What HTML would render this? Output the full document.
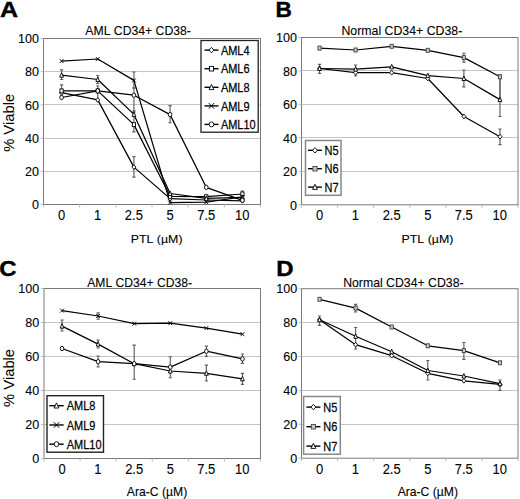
<!DOCTYPE html>
<html><head><meta charset="utf-8"><style>
html,body{margin:0;padding:0;background:#fff;}
svg{display:block;}
text{font-family:"Liberation Sans",sans-serif;font-kerning:none;stroke:#000;stroke-width:0.1px;}
</style></head><body>
<svg width="520" height="499" viewBox="0 0 520 499">
<rect width="520" height="499" fill="#fff"/>
<line x1="43.5" y1="171.5" x2="260.5" y2="171.5" stroke="#c4c4c4" stroke-width="1"/>
<line x1="43.5" y1="138.5" x2="260.5" y2="138.5" stroke="#c4c4c4" stroke-width="1"/>
<line x1="43.5" y1="104.5" x2="260.5" y2="104.5" stroke="#c4c4c4" stroke-width="1"/>
<line x1="43.5" y1="71.5" x2="260.5" y2="71.5" stroke="#c4c4c4" stroke-width="1"/>
<rect x="43.5" y="38.5" width="217.0" height="166.0" fill="none" stroke="#7a7a7a" stroke-width="1"/>
<line x1="40.5" y1="204.5" x2="43.5" y2="204.5" stroke="#bbb" stroke-width="1"/>
<line x1="40.5" y1="171.3" x2="43.5" y2="171.3" stroke="#bbb" stroke-width="1"/>
<line x1="40.5" y1="138.1" x2="43.5" y2="138.1" stroke="#bbb" stroke-width="1"/>
<line x1="40.5" y1="104.9" x2="43.5" y2="104.9" stroke="#bbb" stroke-width="1"/>
<line x1="40.5" y1="71.7" x2="43.5" y2="71.7" stroke="#bbb" stroke-width="1"/>
<line x1="40.5" y1="38.5" x2="43.5" y2="38.5" stroke="#bbb" stroke-width="1"/>
<line x1="43.5" y1="204.5" x2="43.5" y2="207.5" stroke="#bbb" stroke-width="1"/>
<line x1="79.67" y1="204.5" x2="79.67" y2="207.5" stroke="#bbb" stroke-width="1"/>
<line x1="115.83" y1="204.5" x2="115.83" y2="207.5" stroke="#bbb" stroke-width="1"/>
<line x1="152" y1="204.5" x2="152" y2="207.5" stroke="#bbb" stroke-width="1"/>
<line x1="188.17" y1="204.5" x2="188.17" y2="207.5" stroke="#bbb" stroke-width="1"/>
<line x1="224.33" y1="204.5" x2="224.33" y2="207.5" stroke="#bbb" stroke-width="1"/>
<line x1="260.5" y1="204.5" x2="260.5" y2="207.5" stroke="#bbb" stroke-width="1"/>
<path d="M61.58,69.80V79.50M59.98,69.80H63.18M59.98,79.50H63.18" stroke="#606060" stroke-width="1.15" fill="none"/>
<path d="M61.58,84.90V96.00M59.98,84.90H63.18M59.98,96.00H63.18" stroke="#606060" stroke-width="1.15" fill="none"/>
<path d="M97.75,75.50V83.50M96.15,75.50H99.35M96.15,83.50H99.35" stroke="#606060" stroke-width="1.15" fill="none"/>
<path d="M97.75,86.00V101.00M96.15,86.00H99.35M96.15,101.00H99.35" stroke="#606060" stroke-width="1.15" fill="none"/>
<path d="M133.92,72.00V88.00M132.32,72.00H135.52M132.32,88.00H135.52" stroke="#606060" stroke-width="1.15" fill="none"/>
<path d="M133.92,88.00V112.00M132.32,88.00H135.52M132.32,112.00H135.52" stroke="#606060" stroke-width="1.15" fill="none"/>
<path d="M133.92,110.80V131.90M132.32,110.80H135.52M132.32,131.90H135.52" stroke="#606060" stroke-width="1.15" fill="none"/>
<path d="M133.92,156.60V177.10M132.32,156.60H135.52M132.32,177.10H135.52" stroke="#606060" stroke-width="1.15" fill="none"/>
<path d="M170.08,105.60V122.70M168.48,105.60H171.68M168.48,122.70H171.68" stroke="#606060" stroke-width="1.15" fill="none"/>
<path d="M242.42,191.00V198.00M240.82,191.00H244.02M240.82,198.00H244.02" stroke="#606060" stroke-width="1.15" fill="none"/>
<polyline points="61.58,92.70 97.75,99.90 133.92,167.10 170.08,198.60 206.25,200.00 242.42,200.80" fill="none" stroke="#000" stroke-width="1.25" stroke-linejoin="round"/>
<polyline points="61.58,90.90 97.75,90.90 133.92,124.60 170.08,196.30 206.25,196.70 242.42,194.00" fill="none" stroke="#000" stroke-width="1.25" stroke-linejoin="round"/>
<polyline points="61.58,75.20 97.75,79.50 133.92,114.40 170.08,193.50 206.25,198.40 242.42,197.40" fill="none" stroke="#000" stroke-width="1.25" stroke-linejoin="round"/>
<polyline points="61.58,61.10 97.75,59.00 133.92,80.40 170.08,202.60 206.25,202.20 242.42,197.00" fill="none" stroke="#000" stroke-width="1.25" stroke-linejoin="round"/>
<polyline points="61.58,97.50 97.75,90.90 133.92,95.20 170.08,114.60 206.25,187.30 242.42,200.30" fill="none" stroke="#000" stroke-width="1.25" stroke-linejoin="round"/>
<path d="M59.58,92.70L61.58,90.30L63.58,92.70L61.58,95.10Z" fill="#fff" stroke="#000" stroke-width="0.9"/>
<path d="M95.75,99.90L97.75,97.50L99.75,99.90L97.75,102.30Z" fill="#fff" stroke="#000" stroke-width="0.9"/>
<path d="M131.92,167.10L133.92,164.70L135.92,167.10L133.92,169.50Z" fill="#fff" stroke="#000" stroke-width="0.9"/>
<path d="M168.08,198.60L170.08,196.20L172.08,198.60L170.08,201.00Z" fill="#fff" stroke="#000" stroke-width="0.9"/>
<path d="M204.25,200.00L206.25,197.60L208.25,200.00L206.25,202.40Z" fill="#fff" stroke="#000" stroke-width="0.9"/>
<path d="M240.42,200.80L242.42,198.40L244.42,200.80L242.42,203.20Z" fill="#fff" stroke="#000" stroke-width="0.9"/>
<rect x="59.98" y="88.90" width="3.20" height="4.00" fill="#fff" stroke="#000" stroke-width="0.9"/>
<rect x="96.15" y="88.90" width="3.20" height="4.00" fill="#fff" stroke="#000" stroke-width="0.9"/>
<rect x="132.32" y="122.60" width="3.20" height="4.00" fill="#fff" stroke="#000" stroke-width="0.9"/>
<rect x="168.48" y="194.30" width="3.20" height="4.00" fill="#fff" stroke="#000" stroke-width="0.9"/>
<rect x="204.65" y="194.70" width="3.20" height="4.00" fill="#fff" stroke="#000" stroke-width="0.9"/>
<rect x="240.82" y="192.00" width="3.20" height="4.00" fill="#fff" stroke="#000" stroke-width="0.9"/>
<path d="M61.58,72.70L63.48,77.20L59.68,77.20Z" fill="#fff" stroke="#000" stroke-width="0.9"/>
<path d="M97.75,77.00L99.65,81.50L95.85,81.50Z" fill="#fff" stroke="#000" stroke-width="0.9"/>
<path d="M133.92,111.90L135.82,116.40L132.02,116.40Z" fill="#fff" stroke="#000" stroke-width="0.9"/>
<path d="M170.08,191.00L171.98,195.50L168.18,195.50Z" fill="#fff" stroke="#000" stroke-width="0.9"/>
<path d="M206.25,195.90L208.15,200.40L204.35,200.40Z" fill="#fff" stroke="#000" stroke-width="0.9"/>
<path d="M242.42,194.90L244.32,199.40L240.52,199.40Z" fill="#fff" stroke="#000" stroke-width="0.9"/>
<path d="M59.68,59.10L63.48,63.10M63.48,59.10L59.68,63.10" stroke="#000" stroke-width="0.9" fill="none"/>
<path d="M95.85,57.00L99.65,61.00M99.65,57.00L95.85,61.00" stroke="#000" stroke-width="0.9" fill="none"/>
<path d="M132.02,78.40L135.82,82.40M135.82,78.40L132.02,82.40" stroke="#000" stroke-width="0.9" fill="none"/>
<path d="M168.18,200.60L171.98,204.60M171.98,200.60L168.18,204.60" stroke="#000" stroke-width="0.9" fill="none"/>
<path d="M204.35,200.20L208.15,204.20M208.15,200.20L204.35,204.20" stroke="#000" stroke-width="0.9" fill="none"/>
<path d="M240.52,195.00L244.32,199.00M244.32,195.00L240.52,199.00" stroke="#000" stroke-width="0.9" fill="none"/>
<ellipse cx="61.58" cy="97.50" rx="1.80" ry="2.20" fill="#fff" stroke="#000" stroke-width="0.9"/>
<ellipse cx="97.75" cy="90.90" rx="1.80" ry="2.20" fill="#fff" stroke="#000" stroke-width="0.9"/>
<ellipse cx="133.92" cy="95.20" rx="1.80" ry="2.20" fill="#fff" stroke="#000" stroke-width="0.9"/>
<ellipse cx="170.08" cy="114.60" rx="1.80" ry="2.20" fill="#fff" stroke="#000" stroke-width="0.9"/>
<ellipse cx="206.25" cy="187.30" rx="1.80" ry="2.20" fill="#fff" stroke="#000" stroke-width="0.9"/>
<ellipse cx="242.42" cy="200.30" rx="1.80" ry="2.20" fill="#fff" stroke="#000" stroke-width="0.9"/>
<rect x="201" y="40.5" width="57.19999999999999" height="91.69999999999999" fill="#fff" stroke="#222" stroke-width="1.3"/>
<line x1="204.5" y1="50.1" x2="218.5" y2="50.1" stroke="#000" stroke-width="1.4"/>
<path d="M209.00,50.10L211.50,47.40L214.00,50.10L211.50,52.80Z" fill="#fff" stroke="#000" stroke-width="0.9"/>
<line x1="204.5" y1="68.7" x2="218.5" y2="68.7" stroke="#000" stroke-width="1.4"/>
<rect x="209.40" y="66.40" width="4.20" height="4.60" fill="#fff" stroke="#000" stroke-width="0.9"/>
<line x1="204.5" y1="87.3" x2="218.5" y2="87.3" stroke="#000" stroke-width="1.4"/>
<path d="M211.50,84.50L213.90,89.60L209.10,89.60Z" fill="#fff" stroke="#000" stroke-width="0.9"/>
<line x1="204.5" y1="105.9" x2="218.5" y2="105.9" stroke="#000" stroke-width="1.4"/>
<path d="M208.80,103.10L214.20,108.70M214.20,103.10L208.80,108.70" stroke="#000" stroke-width="1.0" fill="none"/>
<line x1="204.5" y1="124.4" x2="218.5" y2="124.4" stroke="#000" stroke-width="1.4"/>
<ellipse cx="211.50" cy="124.40" rx="2.30" ry="2.50" fill="#fff" stroke="#000" stroke-width="0.9"/>
<line x1="301.5" y1="171.5" x2="518" y2="171.5" stroke="#c4c4c4" stroke-width="1"/>
<line x1="301.5" y1="137.5" x2="518" y2="137.5" stroke="#c4c4c4" stroke-width="1"/>
<line x1="301.5" y1="104.5" x2="518" y2="104.5" stroke="#c4c4c4" stroke-width="1"/>
<line x1="301.5" y1="70.5" x2="518" y2="70.5" stroke="#c4c4c4" stroke-width="1"/>
<rect x="301.5" y="37.5" width="216.5" height="167.3" fill="none" stroke="#7a7a7a" stroke-width="1"/>
<line x1="298.5" y1="204.8" x2="301.5" y2="204.8" stroke="#bbb" stroke-width="1"/>
<line x1="298.5" y1="171.34" x2="301.5" y2="171.34" stroke="#bbb" stroke-width="1"/>
<line x1="298.5" y1="137.88" x2="301.5" y2="137.88" stroke="#bbb" stroke-width="1"/>
<line x1="298.5" y1="104.42" x2="301.5" y2="104.42" stroke="#bbb" stroke-width="1"/>
<line x1="298.5" y1="70.96" x2="301.5" y2="70.96" stroke="#bbb" stroke-width="1"/>
<line x1="298.5" y1="37.5" x2="301.5" y2="37.5" stroke="#bbb" stroke-width="1"/>
<line x1="301.5" y1="204.8" x2="301.5" y2="207.8" stroke="#bbb" stroke-width="1"/>
<line x1="337.58" y1="204.8" x2="337.58" y2="207.8" stroke="#bbb" stroke-width="1"/>
<line x1="373.67" y1="204.8" x2="373.67" y2="207.8" stroke="#bbb" stroke-width="1"/>
<line x1="409.75" y1="204.8" x2="409.75" y2="207.8" stroke="#bbb" stroke-width="1"/>
<line x1="445.83" y1="204.8" x2="445.83" y2="207.8" stroke="#bbb" stroke-width="1"/>
<line x1="481.92" y1="204.8" x2="481.92" y2="207.8" stroke="#bbb" stroke-width="1"/>
<line x1="518" y1="204.8" x2="518" y2="207.8" stroke="#bbb" stroke-width="1"/>
<path d="M319.54,64.40V73.30M317.94,64.40H321.14M317.94,73.30H321.14" stroke="#606060" stroke-width="1.15" fill="none"/>
<path d="M355.62,65.00V76.00M354.02,65.00H357.23M354.02,76.00H357.23" stroke="#606060" stroke-width="1.15" fill="none"/>
<path d="M463.88,53.20V62.10M462.27,53.20H465.48M462.27,62.10H465.48" stroke="#606060" stroke-width="1.15" fill="none"/>
<path d="M463.88,70.00V86.90M462.27,70.00H465.48M462.27,86.90H465.48" stroke="#606060" stroke-width="1.15" fill="none"/>
<path d="M499.96,74.90V100.00M498.36,74.90H501.56M498.36,100.00H501.56" stroke="#606060" stroke-width="1.15" fill="none"/>
<path d="M499.96,77.30V116.50M498.36,77.30H501.56M498.36,116.50H501.56" stroke="#606060" stroke-width="1.15" fill="none"/>
<path d="M499.96,129.00V144.60M498.36,129.00H501.56M498.36,144.60H501.56" stroke="#606060" stroke-width="1.15" fill="none"/>
<polyline points="319.54,68.50 355.62,72.70 391.71,72.70 427.79,78.50 463.88,116.50 499.96,136.70" fill="none" stroke="#000" stroke-width="1.25" stroke-linejoin="round"/>
<polyline points="319.54,48.10 355.62,50.00 391.71,46.30 427.79,50.30 463.88,57.60 499.96,76.80" fill="none" stroke="#000" stroke-width="1.25" stroke-linejoin="round"/>
<polyline points="319.54,68.50 355.62,69.20 391.71,66.90 427.79,75.60 463.88,78.50 499.96,99.60" fill="none" stroke="#000" stroke-width="1.25" stroke-linejoin="round"/>
<path d="M317.54,68.50L319.54,66.10L321.54,68.50L319.54,70.90Z" fill="#fff" stroke="#000" stroke-width="0.9"/>
<path d="M353.62,72.70L355.62,70.30L357.62,72.70L355.62,75.10Z" fill="#fff" stroke="#000" stroke-width="0.9"/>
<path d="M389.71,72.70L391.71,70.30L393.71,72.70L391.71,75.10Z" fill="#fff" stroke="#000" stroke-width="0.9"/>
<path d="M425.79,78.50L427.79,76.10L429.79,78.50L427.79,80.90Z" fill="#fff" stroke="#000" stroke-width="0.9"/>
<path d="M461.88,116.50L463.88,114.10L465.88,116.50L463.88,118.90Z" fill="#fff" stroke="#000" stroke-width="0.9"/>
<path d="M497.96,136.70L499.96,134.30L501.96,136.70L499.96,139.10Z" fill="#fff" stroke="#000" stroke-width="0.9"/>
<rect x="317.94" y="46.10" width="3.20" height="4.00" fill="#c8c8c8" stroke="#444" stroke-width="0.9"/>
<rect x="354.02" y="48.00" width="3.20" height="4.00" fill="#c8c8c8" stroke="#444" stroke-width="0.9"/>
<rect x="390.11" y="44.30" width="3.20" height="4.00" fill="#c8c8c8" stroke="#444" stroke-width="0.9"/>
<rect x="426.19" y="48.30" width="3.20" height="4.00" fill="#c8c8c8" stroke="#444" stroke-width="0.9"/>
<rect x="462.27" y="55.60" width="3.20" height="4.00" fill="#c8c8c8" stroke="#444" stroke-width="0.9"/>
<rect x="498.36" y="74.80" width="3.20" height="4.00" fill="#c8c8c8" stroke="#444" stroke-width="0.9"/>
<path d="M319.54,66.00L321.44,70.50L317.64,70.50Z" fill="#fff" stroke="#000" stroke-width="0.9"/>
<path d="M355.62,66.70L357.53,71.20L353.72,71.20Z" fill="#fff" stroke="#000" stroke-width="0.9"/>
<path d="M391.71,64.40L393.61,68.90L389.81,68.90Z" fill="#fff" stroke="#000" stroke-width="0.9"/>
<path d="M427.79,73.10L429.69,77.60L425.89,77.60Z" fill="#fff" stroke="#000" stroke-width="0.9"/>
<path d="M463.88,76.00L465.78,80.50L461.97,80.50Z" fill="#fff" stroke="#000" stroke-width="0.9"/>
<path d="M499.96,97.10L501.86,101.60L498.06,101.60Z" fill="#fff" stroke="#000" stroke-width="0.9"/>
<rect x="305.5" y="140.5" width="35.5" height="54.80000000000001" fill="#fff" stroke="#888" stroke-width="1.5"/>
<line x1="308.1" y1="150.3" x2="321.9" y2="150.3" stroke="#000" stroke-width="1.4"/>
<path d="M312.50,150.30L315.00,147.60L317.50,150.30L315.00,153.00Z" fill="#fff" stroke="#000" stroke-width="0.9"/>
<line x1="308.1" y1="168.7" x2="321.9" y2="168.7" stroke="#000" stroke-width="1.4"/>
<rect x="312.90" y="166.40" width="4.20" height="4.60" fill="#c8c8c8" stroke="#444" stroke-width="0.9"/>
<line x1="308.1" y1="187.1" x2="321.9" y2="187.1" stroke="#000" stroke-width="1.4"/>
<path d="M315.00,184.30L317.40,189.40L312.60,189.40Z" fill="#fff" stroke="#000" stroke-width="0.9"/>
<line x1="44" y1="424.5" x2="260.5" y2="424.5" stroke="#c4c4c4" stroke-width="1"/>
<line x1="44" y1="390.5" x2="260.5" y2="390.5" stroke="#c4c4c4" stroke-width="1"/>
<line x1="44" y1="356.5" x2="260.5" y2="356.5" stroke="#c4c4c4" stroke-width="1"/>
<line x1="44" y1="322.5" x2="260.5" y2="322.5" stroke="#c4c4c4" stroke-width="1"/>
<rect x="44" y="288.5" width="216.5" height="170.0" fill="none" stroke="#7a7a7a" stroke-width="1"/>
<line x1="41" y1="458.5" x2="44" y2="458.5" stroke="#bbb" stroke-width="1"/>
<line x1="41" y1="424.5" x2="44" y2="424.5" stroke="#bbb" stroke-width="1"/>
<line x1="41" y1="390.5" x2="44" y2="390.5" stroke="#bbb" stroke-width="1"/>
<line x1="41" y1="356.5" x2="44" y2="356.5" stroke="#bbb" stroke-width="1"/>
<line x1="41" y1="322.5" x2="44" y2="322.5" stroke="#bbb" stroke-width="1"/>
<line x1="41" y1="288.5" x2="44" y2="288.5" stroke="#bbb" stroke-width="1"/>
<line x1="44" y1="458.5" x2="44" y2="461.5" stroke="#bbb" stroke-width="1"/>
<line x1="80.08" y1="458.5" x2="80.08" y2="461.5" stroke="#bbb" stroke-width="1"/>
<line x1="116.17" y1="458.5" x2="116.17" y2="461.5" stroke="#bbb" stroke-width="1"/>
<line x1="152.25" y1="458.5" x2="152.25" y2="461.5" stroke="#bbb" stroke-width="1"/>
<line x1="188.33" y1="458.5" x2="188.33" y2="461.5" stroke="#bbb" stroke-width="1"/>
<line x1="224.42" y1="458.5" x2="224.42" y2="461.5" stroke="#bbb" stroke-width="1"/>
<line x1="260.5" y1="458.5" x2="260.5" y2="461.5" stroke="#bbb" stroke-width="1"/>
<path d="M98.12,312.80V319.20M96.53,312.80H99.72M96.53,319.20H99.72" stroke="#606060" stroke-width="1.15" fill="none"/>
<path d="M62.04,320.00V331.00M60.44,320.00H63.64M60.44,331.00H63.64" stroke="#606060" stroke-width="1.15" fill="none"/>
<path d="M98.12,340.00V348.00M96.53,340.00H99.72M96.53,348.00H99.72" stroke="#606060" stroke-width="1.15" fill="none"/>
<path d="M98.12,356.00V367.00M96.53,356.00H99.72M96.53,367.00H99.72" stroke="#606060" stroke-width="1.15" fill="none"/>
<path d="M134.21,345.10V379.20M132.61,345.10H135.81M132.61,379.20H135.81" stroke="#606060" stroke-width="1.15" fill="none"/>
<path d="M170.29,356.70V377.70M168.69,356.70H171.89M168.69,377.70H171.89" stroke="#606060" stroke-width="1.15" fill="none"/>
<path d="M206.38,346.10V356.30M204.78,346.10H207.97M204.78,356.30H207.97" stroke="#606060" stroke-width="1.15" fill="none"/>
<path d="M206.38,365.10V381.00M204.78,365.10H207.97M204.78,381.00H207.97" stroke="#606060" stroke-width="1.15" fill="none"/>
<path d="M242.46,354.00V363.30M240.86,354.00H244.06M240.86,363.30H244.06" stroke="#606060" stroke-width="1.15" fill="none"/>
<path d="M242.46,373.30V384.30M240.86,373.30H244.06M240.86,384.30H244.06" stroke="#606060" stroke-width="1.15" fill="none"/>
<polyline points="62.04,326.10 98.12,344.10 134.21,363.70 170.29,371.00 206.38,373.30 242.46,378.80" fill="none" stroke="#000" stroke-width="1.25" stroke-linejoin="round"/>
<polyline points="62.04,310.60 98.12,316.00 134.21,323.70 170.29,323.20 206.38,328.10 242.46,334.20" fill="none" stroke="#000" stroke-width="1.25" stroke-linejoin="round"/>
<polyline points="62.04,348.50 98.12,361.70 134.21,363.70 170.29,367.10 206.38,351.20 242.46,358.90" fill="none" stroke="#000" stroke-width="1.25" stroke-linejoin="round"/>
<path d="M62.04,323.60L63.94,328.10L60.14,328.10Z" fill="#fff" stroke="#000" stroke-width="0.9"/>
<path d="M98.12,341.60L100.02,346.10L96.23,346.10Z" fill="#fff" stroke="#000" stroke-width="0.9"/>
<path d="M134.21,361.20L136.11,365.70L132.31,365.70Z" fill="#fff" stroke="#000" stroke-width="0.9"/>
<path d="M170.29,368.50L172.19,373.00L168.39,373.00Z" fill="#fff" stroke="#000" stroke-width="0.9"/>
<path d="M206.38,370.80L208.28,375.30L204.47,375.30Z" fill="#fff" stroke="#000" stroke-width="0.9"/>
<path d="M242.46,376.30L244.36,380.80L240.56,380.80Z" fill="#fff" stroke="#000" stroke-width="0.9"/>
<path d="M60.14,308.60L63.94,312.60M63.94,308.60L60.14,312.60" stroke="#000" stroke-width="0.9" fill="none"/>
<path d="M96.23,314.00L100.02,318.00M100.02,314.00L96.23,318.00" stroke="#000" stroke-width="0.9" fill="none"/>
<path d="M132.31,321.70L136.11,325.70M136.11,321.70L132.31,325.70" stroke="#000" stroke-width="0.9" fill="none"/>
<path d="M168.39,321.20L172.19,325.20M172.19,321.20L168.39,325.20" stroke="#000" stroke-width="0.9" fill="none"/>
<path d="M204.47,326.10L208.28,330.10M208.28,326.10L204.47,330.10" stroke="#000" stroke-width="0.9" fill="none"/>
<path d="M240.56,332.20L244.36,336.20M244.36,332.20L240.56,336.20" stroke="#000" stroke-width="0.9" fill="none"/>
<ellipse cx="62.04" cy="348.50" rx="1.80" ry="2.20" fill="#fff" stroke="#000" stroke-width="0.9"/>
<ellipse cx="98.12" cy="361.70" rx="1.80" ry="2.20" fill="#fff" stroke="#000" stroke-width="0.9"/>
<ellipse cx="134.21" cy="363.70" rx="1.80" ry="2.20" fill="#fff" stroke="#000" stroke-width="0.9"/>
<ellipse cx="170.29" cy="367.10" rx="1.80" ry="2.20" fill="#fff" stroke="#000" stroke-width="0.9"/>
<ellipse cx="206.38" cy="351.20" rx="1.80" ry="2.20" fill="#fff" stroke="#000" stroke-width="0.9"/>
<ellipse cx="242.46" cy="358.90" rx="1.80" ry="2.20" fill="#fff" stroke="#000" stroke-width="0.9"/>
<rect x="47" y="395.7" width="56.5" height="56.5" fill="#fff" stroke="#222" stroke-width="1.4"/>
<line x1="49.3" y1="405.7" x2="63.7" y2="405.7" stroke="#000" stroke-width="1.4"/>
<path d="M56.50,402.90L58.90,408.00L54.10,408.00Z" fill="#fff" stroke="#000" stroke-width="0.9"/>
<line x1="49.3" y1="425" x2="63.7" y2="425" stroke="#000" stroke-width="1.4"/>
<path d="M53.80,422.20L59.20,427.80M59.20,422.20L53.80,427.80" stroke="#000" stroke-width="1.0" fill="none"/>
<line x1="49.3" y1="444.2" x2="63.7" y2="444.2" stroke="#000" stroke-width="1.4"/>
<ellipse cx="56.50" cy="444.20" rx="2.30" ry="2.50" fill="#fff" stroke="#000" stroke-width="0.9"/>
<line x1="301.5" y1="424.5" x2="518" y2="424.5" stroke="#c4c4c4" stroke-width="1"/>
<line x1="301.5" y1="390.5" x2="518" y2="390.5" stroke="#c4c4c4" stroke-width="1"/>
<line x1="301.5" y1="356.5" x2="518" y2="356.5" stroke="#c4c4c4" stroke-width="1"/>
<line x1="301.5" y1="322.5" x2="518" y2="322.5" stroke="#c4c4c4" stroke-width="1"/>
<rect x="301.5" y="288.7" width="216.5" height="169.5" fill="none" stroke="#7a7a7a" stroke-width="1"/>
<line x1="298.5" y1="458.2" x2="301.5" y2="458.2" stroke="#bbb" stroke-width="1"/>
<line x1="298.5" y1="424.3" x2="301.5" y2="424.3" stroke="#bbb" stroke-width="1"/>
<line x1="298.5" y1="390.4" x2="301.5" y2="390.4" stroke="#bbb" stroke-width="1"/>
<line x1="298.5" y1="356.5" x2="301.5" y2="356.5" stroke="#bbb" stroke-width="1"/>
<line x1="298.5" y1="322.6" x2="301.5" y2="322.6" stroke="#bbb" stroke-width="1"/>
<line x1="298.5" y1="288.7" x2="301.5" y2="288.7" stroke="#bbb" stroke-width="1"/>
<line x1="301.5" y1="458.2" x2="301.5" y2="461.2" stroke="#bbb" stroke-width="1"/>
<line x1="337.58" y1="458.2" x2="337.58" y2="461.2" stroke="#bbb" stroke-width="1"/>
<line x1="373.67" y1="458.2" x2="373.67" y2="461.2" stroke="#bbb" stroke-width="1"/>
<line x1="409.75" y1="458.2" x2="409.75" y2="461.2" stroke="#bbb" stroke-width="1"/>
<line x1="445.83" y1="458.2" x2="445.83" y2="461.2" stroke="#bbb" stroke-width="1"/>
<line x1="481.92" y1="458.2" x2="481.92" y2="461.2" stroke="#bbb" stroke-width="1"/>
<line x1="518" y1="458.2" x2="518" y2="461.2" stroke="#bbb" stroke-width="1"/>
<path d="M319.54,316.00V325.30M317.94,316.00H321.14M317.94,325.30H321.14" stroke="#606060" stroke-width="1.15" fill="none"/>
<path d="M355.62,304.30V312.00M354.02,304.30H357.23M354.02,312.00H357.23" stroke="#606060" stroke-width="1.15" fill="none"/>
<path d="M355.62,327.50V349.00M354.02,327.50H357.23M354.02,349.00H357.23" stroke="#606060" stroke-width="1.15" fill="none"/>
<path d="M463.88,342.50V359.40M462.27,342.50H465.48M462.27,359.40H465.48" stroke="#606060" stroke-width="1.15" fill="none"/>
<path d="M427.79,360.50V380.00M426.19,360.50H429.39M426.19,380.00H429.39" stroke="#606060" stroke-width="1.15" fill="none"/>
<path d="M499.96,380.00V390.30M498.36,380.00H501.56M498.36,390.30H501.56" stroke="#606060" stroke-width="1.15" fill="none"/>
<polyline points="319.54,319.80 355.62,344.70 391.71,355.70 427.79,373.30 463.88,380.80 499.96,384.40" fill="none" stroke="#000" stroke-width="1.25" stroke-linejoin="round"/>
<polyline points="319.54,299.30 355.62,308.10 391.71,327.00 427.79,345.80 463.88,350.60 499.96,362.80" fill="none" stroke="#000" stroke-width="1.25" stroke-linejoin="round"/>
<polyline points="319.54,319.80 355.62,336.30 391.71,351.70 427.79,370.50 463.88,376.00 499.96,383.70" fill="none" stroke="#000" stroke-width="1.25" stroke-linejoin="round"/>
<path d="M317.54,319.80L319.54,317.40L321.54,319.80L319.54,322.20Z" fill="#fff" stroke="#000" stroke-width="0.9"/>
<path d="M353.62,344.70L355.62,342.30L357.62,344.70L355.62,347.10Z" fill="#fff" stroke="#000" stroke-width="0.9"/>
<path d="M389.71,355.70L391.71,353.30L393.71,355.70L391.71,358.10Z" fill="#fff" stroke="#000" stroke-width="0.9"/>
<path d="M425.79,373.30L427.79,370.90L429.79,373.30L427.79,375.70Z" fill="#fff" stroke="#000" stroke-width="0.9"/>
<path d="M461.88,380.80L463.88,378.40L465.88,380.80L463.88,383.20Z" fill="#fff" stroke="#000" stroke-width="0.9"/>
<path d="M497.96,384.40L499.96,382.00L501.96,384.40L499.96,386.80Z" fill="#fff" stroke="#000" stroke-width="0.9"/>
<rect x="317.94" y="297.30" width="3.20" height="4.00" fill="#c8c8c8" stroke="#444" stroke-width="0.9"/>
<rect x="354.02" y="306.10" width="3.20" height="4.00" fill="#c8c8c8" stroke="#444" stroke-width="0.9"/>
<rect x="390.11" y="325.00" width="3.20" height="4.00" fill="#c8c8c8" stroke="#444" stroke-width="0.9"/>
<rect x="426.19" y="343.80" width="3.20" height="4.00" fill="#c8c8c8" stroke="#444" stroke-width="0.9"/>
<rect x="462.27" y="348.60" width="3.20" height="4.00" fill="#c8c8c8" stroke="#444" stroke-width="0.9"/>
<rect x="498.36" y="360.80" width="3.20" height="4.00" fill="#c8c8c8" stroke="#444" stroke-width="0.9"/>
<path d="M319.54,317.30L321.44,321.80L317.64,321.80Z" fill="#fff" stroke="#000" stroke-width="0.9"/>
<path d="M355.62,333.80L357.53,338.30L353.72,338.30Z" fill="#fff" stroke="#000" stroke-width="0.9"/>
<path d="M391.71,349.20L393.61,353.70L389.81,353.70Z" fill="#fff" stroke="#000" stroke-width="0.9"/>
<path d="M427.79,368.00L429.69,372.50L425.89,372.50Z" fill="#fff" stroke="#000" stroke-width="0.9"/>
<path d="M463.88,373.50L465.78,378.00L461.97,378.00Z" fill="#fff" stroke="#000" stroke-width="0.9"/>
<path d="M499.96,381.20L501.86,385.70L498.06,385.70Z" fill="#fff" stroke="#000" stroke-width="0.9"/>
<rect x="303.6" y="396.5" width="36.69999999999999" height="57.69999999999999" fill="#fff" stroke="#888" stroke-width="1.5"/>
<line x1="306.4" y1="407.1" x2="320.4" y2="407.1" stroke="#000" stroke-width="1.4"/>
<path d="M310.90,407.10L313.40,404.40L315.90,407.10L313.40,409.80Z" fill="#fff" stroke="#000" stroke-width="0.9"/>
<line x1="306.4" y1="426.7" x2="320.4" y2="426.7" stroke="#000" stroke-width="1.4"/>
<rect x="311.30" y="424.40" width="4.20" height="4.60" fill="#c8c8c8" stroke="#444" stroke-width="0.9"/>
<line x1="306.4" y1="446.1" x2="320.4" y2="446.1" stroke="#000" stroke-width="1.4"/>
<path d="M313.40,443.30L315.80,448.40L311.00,448.40Z" fill="#fff" stroke="#000" stroke-width="0.9"/>
<text transform="translate(0.03,16.60) scale(1.1641,1)" font-size="21.51" font-weight="bold" fill="#000" style="stroke-width:0.4px">A</text>
<text transform="translate(275.54,16.50) scale(1.0591,1)" font-size="21.37" font-weight="bold" fill="#000" style="stroke-width:0.4px">B</text>
<text transform="translate(-0.83,275.60) scale(1.0869,1)" font-size="22.09" font-weight="bold" fill="#000" style="stroke-width:0.4px">C</text>
<text transform="translate(276.25,275.70) scale(1.0571,1)" font-size="22.67" font-weight="bold" fill="#000" style="stroke-width:0.4px">D</text>
<text transform="translate(85.33,34.70) scale(0.9559,1)" font-size="12.79" font-weight="normal" fill="#000">AML CD34+ CD38-</text>
<text transform="translate(341.44,34.80) scale(0.9649,1)" font-size="12.79" font-weight="normal" fill="#000">Normal CD34+ CD38-</text>
<text transform="translate(87.23,286.60) scale(0.9487,1)" font-size="12.79" font-weight="normal" fill="#000">AML CD34+ CD38-</text>
<text transform="translate(343.14,286.60) scale(0.9609,1)" font-size="12.79" font-weight="normal" fill="#000">Normal CD34+ CD38-</text>
<text transform="translate(130.73,243.20) scale(1.0930,1)" font-size="11.34" font-weight="normal" fill="#000">PTL (µM)</text>
<text transform="translate(401.53,242.80) scale(1.0930,1)" font-size="11.34" font-weight="normal" fill="#000">PTL (µM)</text>
<text transform="translate(126.83,495.50) scale(1.0098,1)" font-size="12.06" font-weight="normal" fill="#000">Ara-C (µM)</text>
<text transform="translate(397.63,495.50) scale(1.0098,1)" font-size="12.06" font-weight="normal" fill="#000">Ara-C (µM)</text>
<text transform="translate(13.70,151.87) rotate(-90) scale(0.9551,1)" font-size="15.41">% Viable</text>
<text transform="translate(14.05,406.97) rotate(-90) scale(0.9551,1)" font-size="15.41">% Viable</text>
<text transform="translate(32.10,209.20) scale(0.92,1)" font-size="13.66">0</text>
<text transform="translate(25.11,176.00) scale(0.92,1)" font-size="13.66">20</text>
<text transform="translate(25.11,142.80) scale(0.92,1)" font-size="13.66">40</text>
<text transform="translate(25.11,109.60) scale(0.92,1)" font-size="13.66">60</text>
<text transform="translate(25.11,76.40) scale(0.92,1)" font-size="13.66">80</text>
<text transform="translate(18.12,43.20) scale(0.92,1)" font-size="13.66">100</text>
<text transform="translate(290.10,209.50) scale(0.92,1)" font-size="13.66">0</text>
<text transform="translate(283.11,176.04) scale(0.92,1)" font-size="13.66">20</text>
<text transform="translate(283.11,142.58) scale(0.92,1)" font-size="13.66">40</text>
<text transform="translate(283.11,109.12) scale(0.92,1)" font-size="13.66">60</text>
<text transform="translate(283.11,75.66) scale(0.92,1)" font-size="13.66">80</text>
<text transform="translate(276.12,42.20) scale(0.92,1)" font-size="13.66">100</text>
<text transform="translate(32.30,463.20) scale(0.92,1)" font-size="13.66">0</text>
<text transform="translate(25.31,429.20) scale(0.92,1)" font-size="13.66">20</text>
<text transform="translate(25.31,395.20) scale(0.92,1)" font-size="13.66">40</text>
<text transform="translate(25.31,361.20) scale(0.92,1)" font-size="13.66">60</text>
<text transform="translate(25.31,327.20) scale(0.92,1)" font-size="13.66">80</text>
<text transform="translate(18.32,293.20) scale(0.92,1)" font-size="13.66">100</text>
<text transform="translate(290.30,462.90) scale(0.92,1)" font-size="13.66">0</text>
<text transform="translate(283.31,429.00) scale(0.92,1)" font-size="13.66">20</text>
<text transform="translate(283.31,395.10) scale(0.92,1)" font-size="13.66">40</text>
<text transform="translate(283.31,361.20) scale(0.92,1)" font-size="13.66">60</text>
<text transform="translate(283.31,327.30) scale(0.92,1)" font-size="13.66">80</text>
<text transform="translate(276.32,293.40) scale(0.92,1)" font-size="13.66">100</text>
<text transform="translate(57.97,219.50) scale(0.93,1)" font-size="13.95">0</text>
<text transform="translate(93.96,219.50) scale(0.93,1)" font-size="13.95">1</text>
<text transform="translate(124.84,219.50) scale(0.93,1)" font-size="13.95">2.5</text>
<text transform="translate(166.49,219.50) scale(0.93,1)" font-size="13.95">5</text>
<text transform="translate(197.17,219.50) scale(0.93,1)" font-size="13.95">7.5</text>
<text transform="translate(234.96,219.50) scale(0.93,1)" font-size="13.95">10</text>
<text transform="translate(315.93,219.70) scale(0.93,1)" font-size="13.95">0</text>
<text transform="translate(351.84,219.70) scale(0.93,1)" font-size="13.95">1</text>
<text transform="translate(382.63,219.70) scale(0.93,1)" font-size="13.95">2.5</text>
<text transform="translate(424.20,219.70) scale(0.93,1)" font-size="13.95">5</text>
<text transform="translate(454.80,219.70) scale(0.93,1)" font-size="13.95">7.5</text>
<text transform="translate(492.50,219.70) scale(0.93,1)" font-size="13.95">10</text>
<text transform="translate(58.43,473.90) scale(0.93,1)" font-size="13.95">0</text>
<text transform="translate(94.34,473.90) scale(0.93,1)" font-size="13.95">1</text>
<text transform="translate(125.13,473.90) scale(0.93,1)" font-size="13.95">2.5</text>
<text transform="translate(166.70,473.90) scale(0.93,1)" font-size="13.95">5</text>
<text transform="translate(197.30,473.90) scale(0.93,1)" font-size="13.95">7.5</text>
<text transform="translate(235.00,473.90) scale(0.93,1)" font-size="13.95">10</text>
<text transform="translate(315.93,473.70) scale(0.93,1)" font-size="13.95">0</text>
<text transform="translate(351.84,473.70) scale(0.93,1)" font-size="13.95">1</text>
<text transform="translate(382.63,473.70) scale(0.93,1)" font-size="13.95">2.5</text>
<text transform="translate(424.20,473.70) scale(0.93,1)" font-size="13.95">5</text>
<text transform="translate(454.80,473.70) scale(0.93,1)" font-size="13.95">7.5</text>
<text transform="translate(492.50,473.70) scale(0.93,1)" font-size="13.95">10</text>
<text transform="translate(220.88,54.70) scale(0.84,1)" font-size="13.08" style="stroke-width:0.25px">AML4</text>
<text transform="translate(220.88,73.30) scale(0.84,1)" font-size="13.08" style="stroke-width:0.25px">AML6</text>
<text transform="translate(220.88,91.90) scale(0.84,1)" font-size="13.08" style="stroke-width:0.25px">AML8</text>
<text transform="translate(220.88,110.50) scale(0.84,1)" font-size="13.08" style="stroke-width:0.25px">AML9</text>
<text transform="translate(220.88,129.00) scale(0.84,1)" font-size="13.08" style="stroke-width:0.25px">AML10</text>
<text transform="translate(324.50,154.90) scale(0.84,1)" font-size="13.08" style="stroke-width:0.25px">N5</text>
<text transform="translate(324.50,173.30) scale(0.84,1)" font-size="13.08" style="stroke-width:0.25px">N6</text>
<text transform="translate(324.50,191.70) scale(0.84,1)" font-size="13.08" style="stroke-width:0.25px">N7</text>
<text transform="translate(66.78,410.30) scale(0.84,1)" font-size="13.08" style="stroke-width:0.25px">AML8</text>
<text transform="translate(66.78,429.60) scale(0.84,1)" font-size="13.08" style="stroke-width:0.25px">AML9</text>
<text transform="translate(66.78,448.80) scale(0.84,1)" font-size="13.08" style="stroke-width:0.25px">AML10</text>
<text transform="translate(323.30,411.70) scale(0.84,1)" font-size="13.08" style="stroke-width:0.25px">N5</text>
<text transform="translate(323.30,431.30) scale(0.84,1)" font-size="13.08" style="stroke-width:0.25px">N6</text>
<text transform="translate(323.30,450.70) scale(0.84,1)" font-size="13.08" style="stroke-width:0.25px">N7</text>
</svg>
</body></html>
